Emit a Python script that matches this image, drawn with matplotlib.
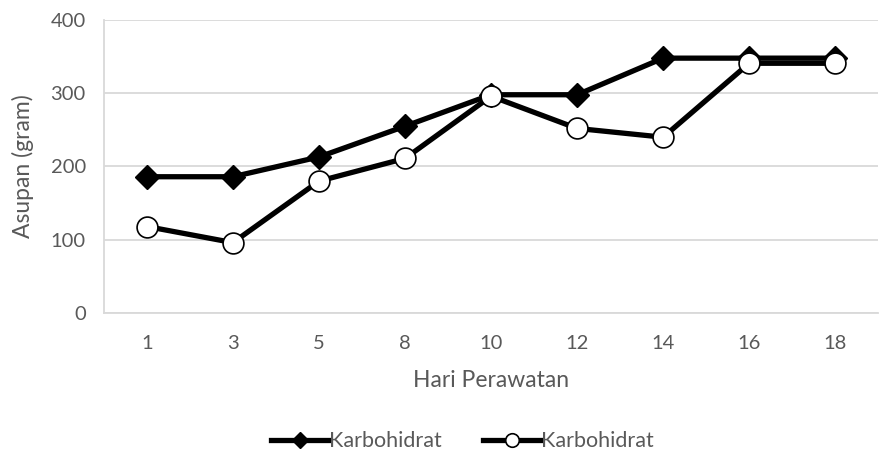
import matplotlib.pyplot as plt
import numpy as np

# Hari perawatan (kategori sumbu x)
days = ["1", "3", "5", "8", "10", "12", "14", "16", "18"]
# Asupan karbohidrat (gram)
series_diamond = [186, 186, 213, 255, 298, 298, 348, 348, 348]
series_circle = [118, 96, 180, 211, 296, 252, 240, 341, 341]
labels = ["Karbohidrat", "Karbohidrat"]
y_ticks = [0, 100, 200, 300, 400]

plt.rcParams['font.family'] = ['Lato', 'DejaVu Sans']
grey = '#595959'
grid_c = '#d9d9d9'

fig = plt.figure(figsize=(8.88, 4.67), dpi=100)
ax = fig.add_axes([0.117, 0.330, 0.872, 0.627])

x = np.arange(len(days))
ax.plot(x, series_diamond, color='black', linewidth=3.8, marker='D',
        markersize=12.5, markerfacecolor='black', markeredgecolor='black',
        label=labels[0], zorder=3)
ax.plot(x, series_circle, color='black', linewidth=3.8, marker='o',
        markersize=15, markerfacecolor='white', markeredgecolor='black',
        markeredgewidth=1.2, label=labels[1], zorder=4)

ax.set_xlim(-0.5, len(days) - 0.5)
ax.set_ylim(0, 400)
ax.set_yticks(y_ticks)
ax.set_xticks(x)
ax.set_xticklabels(days)
ax.yaxis.grid(True, color=grid_c, linewidth=1.3)
ax.set_axisbelow(True)

for s in ['top', 'right']:
    ax.spines[s].set_visible(False)
ax.spines['left'].set_color(grid_c)
ax.spines['left'].set_linewidth(1.3)
ax.spines['bottom'].set_color(grid_c)
ax.spines['bottom'].set_linewidth(1.3)

ax.tick_params(axis='both', length=0, labelsize=14.5, labelcolor=grey)
ax.tick_params(axis='x', pad=16)
ax.tick_params(axis='y', pad=13)
ax.set_xlabel("Hari Perawatan", fontsize=16.5, color=grey, labelpad=13)
ax.set_ylabel("Asupan (gram)", fontsize=16.5, color=grey, labelpad=12)

leg = fig.legend(loc='center', bbox_to_anchor=(0.521, 0.055), ncol=2, frameon=False,
                 fontsize=15.5, handlelength=2.7, handletextpad=0.0, columnspacing=1.9,
                 markerscale=0.65)
for t in leg.get_texts():
    t.set_color(grey)

fig.savefig("out.png", dpi=100)
